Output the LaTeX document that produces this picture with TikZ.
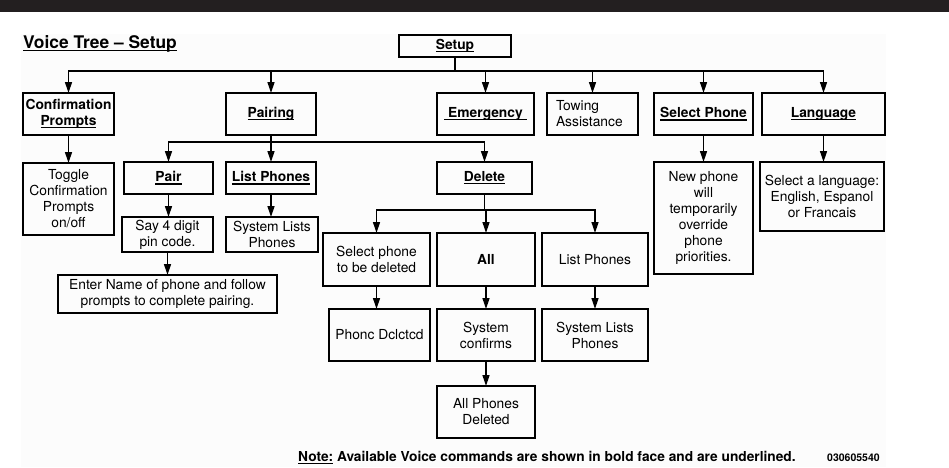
\documentclass[tikz,border=0pt]{standalone}
\usepackage{fontspec}
\setmainfont{TeX Gyre Heros}
\usetikzlibrary{arrows.meta}
\definecolor{barcol}{HTML}{231F20}
\definecolor{paper}{HTML}{FCFCFC}
\newcommand\ulx[1]{\setbox0\hbox{#1}\rlap{\rule[-2.8pt]{\wd0}{1.1pt}}\box0\relax}
\newcommand\cmdu[1]{\textbf{\ulx{#1}}}
\begin{document}
\begin{tikzpicture}[x=1pt,y=-1pt,
  bx/.style={draw, line width=1.6pt, inner sep=0pt, outer sep=0pt, align=center,
             font=\fontsize{13.8}{16}\selectfont},
  con/.style={line width=1.3pt},
  arr/.style={con, -{Triangle[length=11pt,width=7pt]}},
]
\useasboundingbox (0,0) rectangle (949,467);
\fill[white] (0,0) rectangle (949,467);
\fill[paper] (21,34) rectangle (886,467);
\fill[barcol] (0,0) rectangle (949,12);

\node[anchor=base west, inner sep=0pt, font=\fontsize{17.4}{20}\selectfont\bfseries] (title) at (23,48) {\ulx{Voice Tree – Setup}};

% top
\node[bx, minimum width=112pt, minimum height=22pt] (setup) at (455,46) {\cmdu{Setup}};
\node[bx, minimum width=91pt, minimum height=42pt] (conf) at (68.5,114) {\textbf{Confirmation}\\\cmdu{Prompts}};
\node[bx, minimum width=90pt, minimum height=42pt] (pairing) at (271,114) {\cmdu{Pairing}};
\node[bx, minimum width=97pt, minimum height=42pt] (emerg) at (485.5,114) {\cmdu{\ Emergency\ }};
\node[bx, minimum width=91pt, minimum height=42pt, text width=73pt, align=left] (towing) at (592.5,114) {Towing\\Assistance};
\node[bx, minimum width=99pt, minimum height=42pt] (selph) at (703.5,114) {\cmdu{Select Phone}};
\node[bx, minimum width=123pt, minimum height=42pt] (lang) at (823.5,114) {\cmdu{Language}};

% second level
\node[bx, minimum width=91pt, minimum height=72pt] (toggle) at (68.5,199) {Toggle\\Confirmation\\Prompts\\on/off};
\node[bx, minimum width=89pt, minimum height=32pt] (pair) at (168.5,178) {\cmdu{Pair}};
\node[bx, minimum width=90pt, minimum height=32pt] (listph) at (271,178) {\cmdu{List Phones}};
\node[bx, minimum width=95pt, minimum height=32pt] (delete) at (484.5,178) {\cmdu{Delete}};
\node[bx, minimum width=99pt, minimum height=112pt] (newph) at (703.5,218) {New phone\\will\\temporarily\\override\\phone\\priorities.};
\node[bx, minimum width=124pt, minimum height=69pt] (sellang) at (822,196.5) {Select a language:\\English, Espanol\\or Francais};

% pairing branch
\node[bx, minimum width=91pt, minimum height=35pt] (say) at (167.5,234.5) {Say 4 digit\\pin code.};
\node[bx, minimum width=92pt, minimum height=35pt] (syslist1) at (272,234.5) {System Lists\\Phones};
\node[bx, minimum width=219pt, minimum height=38pt] (enter) at (167.5,294) {Enter Name of phone and follow\\prompts to complete pairing.};

% delete branch
\node[bx, minimum width=107pt, minimum height=53pt] (selphdel) at (376.5,259.5) {Select phone\\to be deleted};
\node[bx, minimum width=98pt, minimum height=53pt] (all) at (486,259.5) {\textbf{All}};
\node[bx, minimum width=106pt, minimum height=53pt] (listph2) at (595,259.5) {List Phones};
\node[bx, minimum width=101pt, minimum height=52pt] (phdel) at (379.5,335) {Phonc Dclctcd};
\node[bx, minimum width=98pt, minimum height=52pt] (syscon) at (486,335) {System\\confirms};
\node[bx, minimum width=106pt, minimum height=52pt] (syslist2) at (595,335) {System Lists\\Phones};
\node[bx, minimum width=98pt, minimum height=52pt] (allph) at (486,412) {All Phones\\Deleted};

% connectors
\coordinate (b1) at (455,71);
\draw[con] (setup.south) -- (b1);
\foreach \n in {conf,pairing,emerg,towing,selph,lang} \draw[arr] (b1) -| (\n.north);
\draw[arr] (conf) -- (toggle);
\coordinate (b2) at (271,142);
\draw[con] (pairing.south) -- (b2);
\foreach \n in {pair,listph,delete} \draw[arr] (b2) -| (\n.north);
\draw[arr] (pair.south) -- (pair.south |- say.north);
\draw[arr] (listph.south) -- (listph.south |- syslist1.north);
\draw[arr] (say.south) -- (say.south |- enter.north);
\coordinate (b3) at (484.5,210);
\draw[con] (delete.south) -- (b3);
\foreach \n in {selphdel,all,listph2} \draw[arr] (b3) -| (\n.north);
\draw[arr] (selphdel.south) -- (selphdel.south |- phdel.north);
\draw[arr] (all) -- (syscon);
\draw[arr] (syscon) -- (allph);
\draw[arr] (listph2) -- (syslist2);
\draw[arr] (selph) -- (newph);
\draw[arr] (lang.south) -- (lang.south |- sellang.north);

% footnote
\node[anchor=base west, inner sep=0pt, font=\fontsize{13.75}{15}\selectfont\bfseries] (note) at (298,461) {\ulx{Note:} Available Voice commands are shown in bold face and are underlined.};
\node[anchor=base west, inner sep=0pt, font=\fontsize{10.5}{12}\selectfont\bfseries] (code) at (827,461) {030605540};
\end{tikzpicture}
\end{document}
